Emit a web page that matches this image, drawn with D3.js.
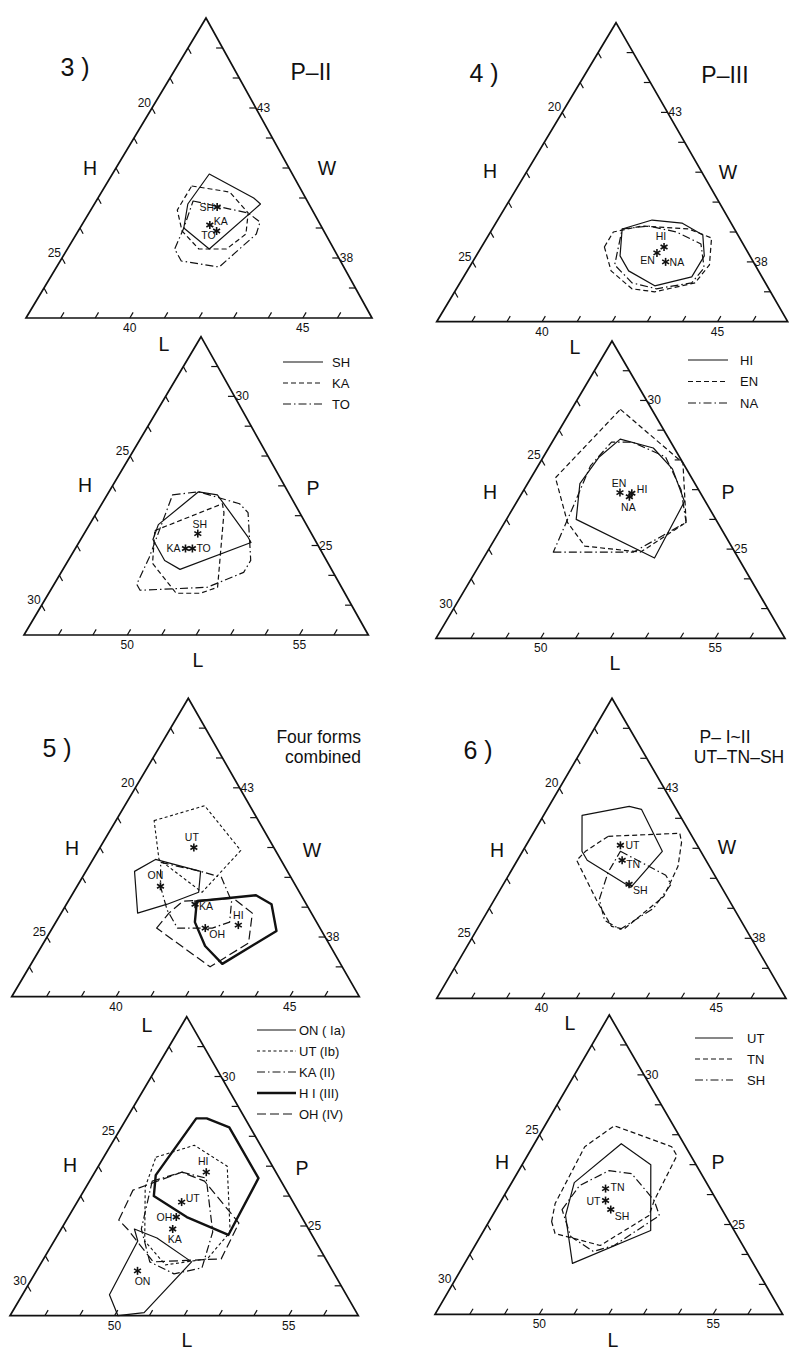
<!DOCTYPE html>
<html><head><meta charset="utf-8">
<script src="https://cdn.jsdelivr.net/npm/d3@7/dist/d3.min.js"></script>
<style>
body{margin:0;background:#fff}
svg{display:block}
text{font-family:"Liberation Sans",Arial,Helvetica,sans-serif;fill:#111}
</style></head>
<body><svg id="chart" width="792" height="1350"></svg>
<script>
// ---------------- axis definitions ----------------
const SPAN = 10;                       // each triangle covers 10 units of every component
const wDiagMin = [17, 36, 37];         // H, W, L at the W-diagram corners
const pDiagMin = [21, 22, 47];         // H, P, L at the P-diagram corners
const wLabelsH = [20, 25], wLabelsW = [43, 38], wLabelsL = [40, 45];
const pLabelsH = [25, 30], pLabelsP = [30, 25], pLabelsL = [50, 55];

// ---------------- data: envelope vertices as [apex component (W or P), L] ----------------
// Panel 3, W diagram (P-II)
const p3W_SH = [[40.8,39.8],[40.0,41.5],[39.8,41.8],[38.3,41.1],[39.0,40.0],[39.8,39.7]];
const p3W_KA = [[40.4,39.5],[40.2,40.7],[39.5,41.6],[38.8,41.9],[38.3,41.6],[38.3,40.8],[38.9,40.0],[39.6,39.5]];
const p3W_TO = [[39.9,39.8],[39.5,41.6],[39.2,42.1],[38.8,42.2],[37.7,41.7],[37.9,40.5],[38.3,40.1],[39.0,40.0]];
const p3W_means = [["SH",39.7,40.6],["KA",39.1,40.7],["TO",38.9,41.0]];
// Panel 4, W diagram (P-III)
const p4W_HI = [[39.1,40.7],[39.4,41.4],[39.3,42.3],[38.9,43.1],[38.2,43.5],[37.5,43.5],[37.2,42.6],[37.7,41.6],[38.2,41.1]];
const p4W_EN = [[38.5,40.5],[39.0,40.5],[39.2,41.2],[39.1,42.6],[38.8,43.4],[37.9,43.8],[37.3,43.7],[37.0,42.7],[37.1,42.0],[37.7,41.1]];
const p4W_NA = [[39.1,40.7],[39.2,41.4],[39.0,42.3],[38.6,43.2],[37.8,43.7],[37.3,43.6],[37.1,42.7],[37.3,41.9],[37.9,41.1],[38.5,40.9]];
const p4W_means = [["HI",38.5,42.2],["EN",38.3,42.1],["NA",38.0,42.5]];
// Panel 3, P diagram
const p3P_SH = [[26.8,49.6],[26.7,50.2],[25.3,51.8],[25.1,52.0],[24.2,50.4],[24.5,49.8],[25.2,49.1],[25.7,49.0]];
const p3P_KA = [[25.5,49.0],[26.4,50.5],[26.1,50.7],[23.6,51.8],[23.4,51.4],[23.4,50.7],[24.4,49.5]];
const p3P_TO = [[26.7,48.9],[26.8,49.6],[26.4,51.0],[26.1,51.4],[24.5,52.3],[24.1,52.3],[23.6,51.5],[23.5,49.6],[23.7,49.4],[24.6,49.3]];
const p3P_means = [["SH",25.4,50.3],["KA",24.9,50.2],["TO",24.9,50.4]];
// Panel 4, P diagram
const p4P_HI = [[28.7,48.9],[28.4,50.0],[27.7,50.9],[26.6,51.8],[24.7,51.9],[26.0,49.0],[27.2,48.5],[28.1,48.6]];
const p4P_EN = [[29.7,48.4],[27.9,51.1],[25.9,52.2],[24.9,51.4],[25.1,49.7],[25.9,48.8],[27.4,47.7]];
const p4P_NA = [[24.9,48.9],[24.9,51.2],[25.9,52.2],[27.0,51.5],[28.1,50.5],[28.6,49.3],[28.6,48.7],[27.8,48.5],[26.4,48.7]];
const p4P_means = [["EN",26.9,49.8],["HI",26.88,50.15],["NA",26.76,50.14]];
// Panel 5, W diagram (four forms combined)
const p5W_ON = [[40.2,38.4],[40.6,38.8],[40.2,40.3],[39.5,40.6],[39.1,39.9],[38.8,39.2]];
const p5W_UT = [[41.9,38.1],[42.4,39.3],[40.9,41.1],[39.5,40.7],[40.6,38.9]];
const p5W_KA = [[40.5,39.0],[40.2,40.3],[40.0,41.0],[39.2,41.7],[38.5,42.0],[38.3,41.6],[38.3,40.6],[38.9,40.0],[39.7,39.4]];
const p5W_HI = [[39.2,40.7],[39.4,42.3],[39.1,42.9],[38.2,43.5],[37.1,42.5],[37.7,41.7],[38.5,41.0]];
const p5W_OH = [[38.3,40.0],[38.8,40.1],[39.2,40.3],[39.3,41.7],[38.8,42.5],[37.8,42.9],[37.0,42.2]];
const p5W_means = [["UT",41.0,39.7],["ON",39.7,39.4],["KA",39.1,40.7],["OH",38.3,41.4],["HI",38.4,42.3]];
// Panel 6, W diagram (P-I~II, UT-TN-SH)
const p6W_UT = [[42.1,38.1],[42.4,39.3],[42.3,39.7],[40.9,41.0],[39.7,40.7],[40.6,39.0],[40.9,38.7]];
const p6W_TN = [[41.4,39.2],[41.5,41.2],[41.2,41.4],[40.4,41.7],[39.4,41.8],[38.3,41.2],[38.4,40.8],[39.2,40.0],[40.6,38.7],[40.9,38.8]];
const p6W_SH = [[40.9,39.8],[40.1,41.5],[39.8,41.8],[39.0,41.7],[38.3,41.1],[38.6,40.5],[39.3,40.0],[40.2,39.8]];
const p6W_means = [["UT",41.1,39.7],["TN",40.6,40.0],["SH",39.8,40.6]];
// Panel 5, P diagram
const p5P_ON = [[24.9,49.1],[24.6,49.9],[23.8,51.3],[22.1,50.8],[22.0,50.1],[22.7,49.5],[24.5,49.4]];
const p5P_UT = [[27.3,48.5],[27.7,49.4],[27.0,50.7],[24.8,51.9],[23.9,51.7],[23.7,50.6],[24.5,49.6],[26.3,48.7]];
const p5P_KA = [[26.5,48.8],[26.8,49.5],[26.6,50.3],[24.8,51.4],[23.6,51.7],[23.4,51.0],[23.8,50.1],[24.9,49.3]];
const p5P_HI = [[26.7,48.8],[28.6,49.0],[28.6,49.3],[28.3,50.1],[26.6,51.8],[24.7,51.9],[25.3,50.4],[26.0,49.1]];
const p5P_OH = [[25.2,48.5],[26.2,48.4],[26.8,49.5],[26.5,50.3],[25.1,52.0],[23.9,52.1],[23.8,50.2],[24.9,48.9]];
const p5P_means = [["HI",26.8,50.2],["UT",25.8,50.0],["OH",25.3,50.1],["KA",24.9,50.2],["ON",23.5,49.9]];
// Panel 6, P diagram
const p6P_UT = [[27.7,49.5],[27.0,50.7],[24.8,51.8],[23.7,50.1],[25.3,49.1],[26.4,48.8]];
const p6P_TN = [[25.1,48.8],[25.7,48.6],[27.6,48.5],[28.3,49.0],[27.6,51.0],[27.3,51.3],[25.8,51.4],[25.3,51.5],[24.3,50.6],[24.7,49.1]];
const p6P_SH = [[25.5,48.9],[26.3,49.0],[26.8,49.6],[26.7,50.3],[25.8,51.4],[25.3,51.8],[24.3,51.0],[24.1,50.5],[24.6,49.6]];
const p6P_means = [["TN",26.2,49.8],["UT",25.8,50.0],["SH",25.5,50.3]];

// legend categories
const legend3 = ["SH","KA","TO"];
const legend4 = ["HI","EN","NA"];
const legend5 = ["ON ( Ia)","UT (Ib)","KA (II)","H I  (III)","OH (IV)"];
const legend6 = ["UT","TN","SH"];

// ---------------- styles / layout ----------------
const lineStyles = {
  solid:{w:1.2,dash:null}, dashed:{w:1.2,dash:"5,3"}, dashdot:{w:1.2,dash:"8,3,1.5,3"},
  thick:{w:2.4,dash:null}, shortdash:{w:1.1,dash:"3,2.5"}, longdash:{w:1.2,dash:"9,4"}
};
const svg = d3.select("#chart");

const panels = [
 {kind:"W", A:[206,18], B:[26,318], C:[372,318], series:[[p3W_SH,"solid"],[p3W_KA,"dashed"],[p3W_TO,"dashdot"]],
  means:p3W_means, lab:[[-3,4,"end"],[4,0,"start"],[-1,8,"end"]], letters:[[90,168],[327,168],[164,344]]},
 {kind:"W", A:[616,22.7], B:[436.7,321.7], C:[787.7,321.7], series:[[p4W_HI,"solid"],[p4W_EN,"dashed"],[p4W_NA,"dashdot"]],
  means:p4W_means, lab:[[-3,-7,"middle"],[-2,11,"end"],[4,4,"start"]], letters:[[490,171],[728,172],[575,347]]},
 {kind:"P", A:[201,336.7], B:[24,635], C:[368.3,635], series:[[p3P_SH,"solid"],[p3P_KA,"dashed"],[p3P_TO,"dashdot"]],
  means:p3P_means, lab:[[2,-6,"middle"],[-5,4,"end"],[4,4,"start"]], letters:[[85,485],[313,488],[198,660]],
  legend:{names:legend3, styles:["solid","dashed","dashdot"], x1:283, x2:323, tx:332, y0:362, dy:21}},
 {kind:"P", A:[612,341], B:[436,638.3], C:[785,638.3], series:[[p4P_HI,"solid"],[p4P_EN,"dashed"],[p4P_NA,"dashdot"]],
  means:p4P_means, lab:[[-1,-6,"middle"],[5,0,"start"],[-1,14,"middle"]], letters:[[490,492],[728,492],[615,663]],
  legend:{names:legend4, styles:["solid","dashed","dashdot"], x1:688, x2:728, tx:740, y0:360, dy:21.5}},
 {kind:"W", A:[188.3,698.3], B:[11.7,996.7], C:[359.3,996.7],
  series:[[p5W_ON,"solid"],[p5W_UT,"shortdash"],[p5W_KA,"dashdot"],[p5W_HI,"thick"],[p5W_OH,"longdash"]],
  means:p5W_means, lab:[[-2,-7,"middle"],[-5,-7,"middle"],[4,6,"start"],[4,10,"start"],[0,-6,"middle"]], letters:[[72,848],[312,850],[147,1025]]},
 {kind:"W", A:[612,698.3], B:[436.7,998.3], C:[786,998.3], series:[[p6W_UT,"solid"],[p6W_TN,"dashed"],[p6W_SH,"dashdot"]],
  means:p6W_means, lab:[[5,4,"start"],[4,8,"start"],[4,10,"start"]], letters:[[497,850],[727,847],[570,1023]]},
 {kind:"P", A:[186.7,1016.7], B:[10,1315.7], C:[358.3,1315.7],
  series:[[p5P_ON,"solid"],[p5P_UT,"shortdash"],[p5P_KA,"dashdot"],[p5P_HI,"thick"],[p5P_OH,"longdash"]],
  means:p5P_means, lab:[[-3,-7,"middle"],[4,0,"start"],[-4,4,"end"],[2,14,"middle"],[5,14,"middle"]], letters:[[70,1165],[302,1168],[187,1340]],
  legend:{names:legend5, styles:["solid","shortdash","dashdot","thick","longdash"], x1:257, x2:296, tx:299, y0:1030, dy:21}},
 {kind:"P", A:[609.3,1015], B:[435,1314.3], C:[782.7,1314.3], series:[[p6P_UT,"solid"],[p6P_TN,"dashed"],[p6P_SH,"dashdot"]],
  means:p6P_means, lab:[[5,2,"start"],[-5,4,"end"],[4,10,"start"]], letters:[[502,1162],[718,1162],[613,1340]],
  legend:{names:legend6, styles:["solid","dashed","dashdot"], x1:695, x2:733, tx:747, y0:1038, dy:21}}
];

function unit(p,q,len){const dx=q[0]-p[0],dy=q[1]-p[1],n=Math.hypot(dx,dy);return [dx/n*len,dy/n*len];}

panels.forEach(pn => {
  const g = svg.append("g");
  const mins = pn.kind === "W" ? wDiagMin : pDiagMin;
  const labH = pn.kind === "W" ? wLabelsH : pLabelsH;
  const labR = pn.kind === "W" ? wLabelsW : pLabelsP;
  const labL = pn.kind === "W" ? wLabelsL : pLabelsL;
  const sApex = d3.scaleLinear().domain([mins[1], mins[1]+SPAN]).range([0,1]);
  const sL = d3.scaleLinear().domain([mins[2], mins[2]+SPAN]).range([0,1]);
  const {A,B,C} = pn;
  const proj = (a, l) => {
    const wa = sApex(a), wc = sL(l), wb = 1 - wa - wc;
    return [wa*A[0]+wb*B[0]+wc*C[0], wa*A[1]+wb*B[1]+wc*C[1]];
  };
  // triangle frame
  g.append("path").attr("d", d3.line()([A,B,C]) + "Z")
    .attr("fill","none").attr("stroke","#111").attr("stroke-width",1.7).attr("stroke-linejoin","miter");
  // ticks
  const tl = 6.5;
  const hVals = d3.range(mins[0]+1, mins[0]+SPAN);
  const aVals = d3.range(mins[1]+1, mins[1]+SPAN);
  const lVals = d3.range(mins[2]+1, mins[2]+SPAN);
  const dH = unit(A,C,tl), dR = unit(C,B,tl), dL = unit(B,A,tl);
  const ticks = [];
  hVals.forEach(h => { const p = proj(100 - h - mins[2], mins[2]); ticks.push({p, d:dH, v:h, side:"H"}); });
  aVals.forEach(a => { const p = proj(a, 100 - mins[0] - a); ticks.push({p, d:dR, v:a, side:"R"}); });
  lVals.forEach(l => { const p = proj(mins[1], l); ticks.push({p, d:dL, v:l, side:"L"}); });
  g.selectAll("line.tick").data(ticks).join("line").attr("class","tick")
    .attr("x1", d => d.p[0]).attr("y1", d => d.p[1])
    .attr("x2", d => d.p[0]+d.d[0]).attr("y2", d => d.p[1]+d.d[1])
    .attr("stroke","#111").attr("stroke-width",1.2);
  const labelled = ticks.filter(t => (t.side==="H" && labH.includes(t.v)) || (t.side==="R" && labR.includes(t.v)) || (t.side==="L" && labL.includes(t.v)));
  g.selectAll("text.tl").data(labelled).join("text").attr("class","tl")
    .attr("font-size", 12)
    .attr("x", d => d.side==="H" ? d.p[0]-1 : d.side==="R" ? d.p[0]+1 : d.p[0])
    .attr("y", d => d.side==="H" ? d.p[1]-1 : d.side==="R" ? d.p[1]+4 : d.p[1]+14)
    .attr("text-anchor", d => d.side==="H" ? "end" : d.side==="R" ? "start" : "middle")
    .text(d => d.v);
  // axis letters
  const letterNames = ["H", pn.kind, "L"];
  g.selectAll("text.ax").data(pn.letters).join("text").attr("class","ax")
    .attr("x", d => d[0]).attr("y", d => d[1] + 7).attr("text-anchor","middle")
    .attr("font-size", 19.5).text((d,i) => letterNames[i]);
  // envelopes
  const line = d3.line().curve(d3.curveLinearClosed);
  pn.series.forEach(([pts, st]) => {
    const s = lineStyles[st];
    g.append("path").attr("d", line(pts.map(d => proj(d[0], d[1]))))
      .attr("fill","none").attr("stroke","#111").attr("stroke-width", s.w)
      .attr("stroke-dasharray", s.dash).attr("stroke-linejoin","round");
  });
  // mean points (asterisks) and labels
  const mp = pn.means.map(d => ({name:d[0], p:proj(d[1], d[2])}));
  const r = 4;
  const arms = [90, 30, 150].map(a => [Math.cos(a*Math.PI/180)*r, Math.sin(a*Math.PI/180)*r]);
  mp.forEach((m, i) => {
    arms.forEach(v => {
      g.append("line").attr("x1", m.p[0]-v[0]).attr("y1", m.p[1]-v[1])
        .attr("x2", m.p[0]+v[0]).attr("y2", m.p[1]+v[1])
        .attr("stroke","#111").attr("stroke-width",1.6);
    });
    const o = pn.lab[i];
    g.append("text").attr("x", m.p[0]+o[0]).attr("y", m.p[1]+o[1]).attr("text-anchor", o[2])
      .attr("font-size", 10.5).text(m.name);
  });
  // legend
  if (pn.legend) {
    const L = pn.legend;
    L.names.forEach((nm, i) => {
      const s = lineStyles[L.styles[i]], y = L.y0 + i*L.dy;
      g.append("line").attr("x1", L.x1).attr("x2", L.x2).attr("y1", y).attr("y2", y)
        .attr("stroke","#111").attr("stroke-width", s.w).attr("stroke-dasharray", s.dash);
      g.append("text").attr("x", L.tx).attr("y", y+4.5).attr("font-size", 13).text(nm);
    });
  }
});

// panel titles
const titles = [
  {t:"3 )", x:75, y:67, fs:25, a:"middle"}, {t:"P\u2013II", x:311, y:72, fs:23, a:"middle"},
  {t:"4 )", x:484, y:73, fs:25, a:"middle"}, {t:"P\u2013III", x:725, y:75, fs:23, a:"middle"},
  {t:"5 )", x:57, y:748, fs:25, a:"middle"}, {t:"Four forms", x:361, y:737, fs:17.5, a:"end"},
  {t:"combined", x:361, y:757, fs:17.5, a:"end"},
  {t:"6 )", x:478, y:750, fs:25, a:"middle"}, {t:"P\u2013 I~II", x:725, y:737, fs:17.5, a:"middle"},
  {t:"UT\u2013TN\u2013SH", x:739, y:757, fs:17.5, a:"middle"}
];
svg.selectAll("text.title").data(titles).join("text").attr("class","title")
  .attr("x", d => d.x).attr("y", d => d.y + d.fs*0.36).attr("text-anchor", d => d.a)
  .attr("font-size", d => d.fs).text(d => d.t);
</script>
</body></html>
